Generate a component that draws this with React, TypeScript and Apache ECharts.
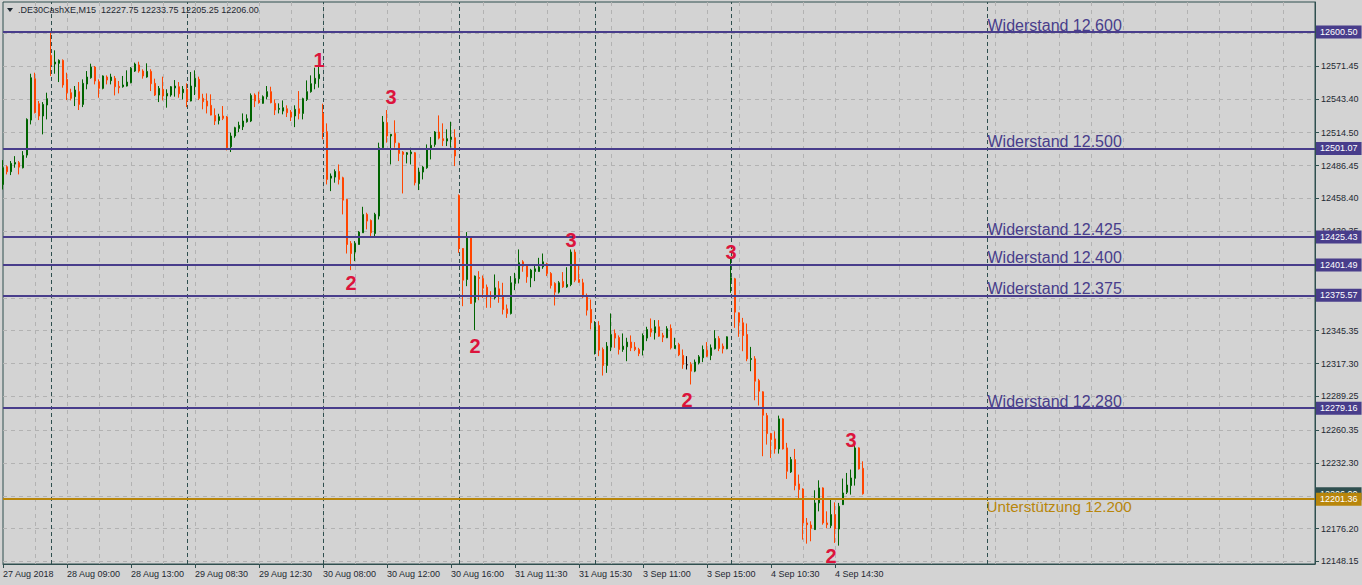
import React, { useEffect, useRef } from "react";
import * as echarts from "echarts";

// ---- data ----
const symbolTitle = ".DE30CashXE,M15";
const xTickLabels = [
  "27 Aug 2018", "28 Aug 09:00", "28 Aug 13:00", "29 Aug 08:30", "29 Aug 12:30",
  "30 Aug 08:00", "30 Aug 12:00", "30 Aug 16:00", "31 Aug 11:30", "31 Aug 15:30",
  "3 Sep 11:00", "3 Sep 15:00", "4 Sep 10:30", "4 Sep 14:30",
];
const barsPerLabel = 16;
const barsPerGridLine = 8;
const totalSlots = 329;

const opens = [
  12470.3, 12485.4, 12481.2, 12487.7, 12488.9, 12484.6, 12495.4, 12525.3, 12560.7, 12539.3,
  12528.8, 12538.2, 12580.6, 12573.2, 12573.8, 12576.3, 12560.1, 12548.7, 12545.3, 12549.6,
  12538.7, 12556.1, 12561.5, 12570.6, 12558.1, 12552.4, 12562.1, 12559.0, 12561.0, 12554.1,
  12553.8, 12554.4, 12557.3, 12567.2, 12572.4, 12567.2, 12562.1, 12566.9, 12556.7, 12546.7,
  12551.6, 12545.9, 12546.7, 12552.7, 12553.8, 12548.7, 12551.6, 12541.6, 12553.8, 12560.1,
  12543.9, 12541.6, 12537.9, 12529.3, 12525.0, 12528.8, 12527.9, 12502.5, 12511.7, 12518.2,
  12519.6, 12523.9, 12524.5, 12546.7, 12542.1, 12539.6, 12545.3, 12549.6, 12539.6, 12534.5,
  12533.0, 12535.0, 12532.2, 12528.8, 12535.0, 12531.0, 12543.0, 12549.6, 12556.4, 12560.7,
  12531.0, 12515.4, 12475.7, 12476.6, 12481.4, 12476.0, 12457.5, 12419.9, 12412.5, 12419.0,
  12429.0, 12444.7, 12439.5, 12428.4, 12443.3, 12501.7, 12523.1, 12511.7, 12513.9, 12505.4,
  12498.0, 12496.0, 12496.5, 12497.4, 12470.9, 12480.9, 12484.6, 12500.3, 12504.5, 12515.1,
  12509.4, 12507.4, 12508.8, 12510.2, 12460.9, 12415.6, 12389.1, 12425.6, 12369.7, 12390.8,
  12390.0, 12382.5, 12375.4, 12373.4, 12381.1, 12375.4, 12364.0, 12360.0, 12385.7, 12389.7,
  12404.2, 12401.1, 12390.5, 12395.9, 12395.9, 12399.9, 12402.5, 12394.2, 12385.7, 12378.3,
  12387.4, 12382.8, 12384.8, 12412.5, 12389.1, 12386.3, 12375.4, 12363.5, 12328.7, 12349.8,
  12329.3, 12315.6, 12331.3, 12343.0, 12339.5, 12329.3, 12331.6, 12335.6, 12331.3, 12329.3,
  12328.7, 12339.0, 12347.0, 12343.5, 12348.7, 12341.3, 12339.3, 12347.3, 12330.2, 12333.6,
  12324.2, 12316.2, 12316.5, 12310.8, 12317.9, 12322.2, 12328.7, 12324.2, 12329.9, 12338.7,
  12332.1, 12329.9, 12388.6, 12389.7, 12360.6, 12352.1, 12342.1, 12320.7, 12321.3, 12302.7,
  12293.1, 12272.8, 12257.4, 12252.9, 12244.3, 12270.0, 12245.2, 12224.7, 12235.2, 12214.4,
  12210.1, 12181.1, 12179.3, 12175.4, 12198.2, 12211.0, 12181.1, 12178.8, 12188.2, 12175.9,
  12196.7, 12207.3, 12213.0, 12219.2, 12245.2, 12227.75,
];
const highs = [
  12491.1, 12486.6, 12490.3, 12494.5, 12490.3, 12498.8, 12526.8, 12564.9, 12565.8, 12541.6,
  12540.7, 12548.7, 12600.3, 12584.9, 12577.2, 12577.2, 12565.8, 12552.1, 12554.4, 12557.8,
  12560.1, 12567.2, 12573.5, 12571.5, 12560.1, 12563.5, 12563.5, 12564.9, 12563.0, 12558.7,
  12563.0, 12567.8, 12570.6, 12574.4, 12575.2, 12568.7, 12573.8, 12568.7, 12560.7, 12554.4,
  12562.4, 12551.6, 12554.4, 12559.5, 12557.8, 12554.4, 12556.7, 12566.4, 12567.8, 12562.4,
  12547.8, 12548.1, 12547.3, 12535.3, 12530.7, 12537.3, 12528.8, 12514.5, 12519.6, 12523.9,
  12531.0, 12530.2, 12548.1, 12548.1, 12549.6, 12546.4, 12554.4, 12553.8, 12543.0, 12539.6,
  12542.1, 12537.9, 12533.9, 12537.9, 12550.1, 12544.4, 12559.2, 12563.5, 12570.1, 12571.5,
  12539.3, 12522.5, 12479.7, 12483.2, 12487.4, 12476.9, 12458.1, 12421.9, 12421.9, 12430.4,
  12451.2, 12446.1, 12440.4, 12446.1, 12506.0, 12528.8, 12533.9, 12513.5, 12525.1, 12506.0,
  12498.8, 12498.0, 12501.7, 12498.0, 12484.6, 12486.0, 12504.5, 12510.8, 12515.9, 12529.3,
  12522.5, 12517.4, 12523.9, 12517.4, 12461.8, 12416.0, 12429.6, 12426.2, 12392.5, 12396.2,
  12392.5, 12384.8, 12379.1, 12393.4, 12387.7, 12386.3, 12367.7, 12392.0, 12394.8, 12414.8,
  12405.6, 12401.9, 12398.2, 12401.9, 12407.6, 12411.3, 12403.4, 12395.4, 12386.8, 12387.7,
  12395.4, 12399.6, 12414.8, 12414.8, 12401.9, 12389.7, 12377.1, 12372.0, 12353.5, 12353.5,
  12331.0, 12335.6, 12360.1, 12346.4, 12341.3, 12343.0, 12339.3, 12341.3, 12335.6, 12330.7,
  12343.0, 12348.7, 12355.8, 12354.4, 12354.4, 12343.5, 12349.2, 12350.7, 12339.3, 12335.0,
  12329.3, 12323.6, 12318.5, 12320.7, 12324.5, 12332.7, 12335.6, 12333.6, 12345.8, 12340.7,
  12334.4, 12340.5, 12406.8, 12390.5, 12361.0, 12356.3, 12351.5, 12331.5, 12323.6, 12304.2,
  12293.6, 12275.1, 12258.0, 12259.4, 12272.8, 12270.5, 12249.5, 12237.5, 12244.3, 12222.4,
  12210.7, 12185.3, 12182.5, 12209.0, 12217.5, 12211.5, 12191.0, 12201.0, 12198.7, 12198.2,
  12219.0, 12223.8, 12226.7, 12248.0, 12245.7, 12233.75,
];
const lows = [
  12466.0, 12478.9, 12478.3, 12484.6, 12478.9, 12484.0, 12493.1, 12521.6, 12531.0, 12525.3,
  12513.1, 12525.9, 12563.0, 12564.9, 12557.8, 12553.0, 12542.4, 12542.1, 12537.3, 12533.9,
  12536.4, 12551.6, 12560.7, 12555.8, 12544.4, 12551.6, 12555.8, 12555.8, 12546.4, 12548.1,
  12553.0, 12554.0, 12556.7, 12566.4, 12565.8, 12560.7, 12561.5, 12550.1, 12545.9, 12540.7,
  12542.1, 12535.9, 12545.3, 12545.3, 12544.4, 12543.0, 12536.4, 12541.3, 12546.7, 12542.4,
  12534.5, 12531.0, 12529.3, 12521.1, 12521.6, 12525.3, 12499.4, 12498.0, 12510.2, 12515.1,
  12516.8, 12523.1, 12523.6, 12536.4, 12539.3, 12539.3, 12543.0, 12539.6, 12529.6, 12531.0,
  12530.2, 12527.9, 12524.5, 12519.3, 12525.9, 12525.9, 12541.6, 12548.7, 12551.6, 12553.0,
  12508.8, 12470.3, 12464.6, 12471.8, 12470.3, 12444.7, 12411.3, 12397.1, 12404.8, 12419.0,
  12429.0, 12431.9, 12424.7, 12424.7, 12440.4, 12501.4, 12506.0, 12487.4, 12501.7, 12490.3,
  12462.6, 12488.3, 12487.4, 12469.5, 12465.5, 12474.6, 12483.7, 12491.7, 12502.5, 12508.8,
  12503.1, 12503.1, 12501.7, 12486.0, 12411.9, 12366.3, 12383.4, 12368.3, 12345.8, 12371.4,
  12373.4, 12364.9, 12364.9, 12372.0, 12369.2, 12359.2, 12356.3, 12359.2, 12380.0, 12385.7,
  12395.7, 12386.3, 12382.5, 12387.7, 12395.9, 12398.2, 12392.0, 12381.4, 12366.9, 12377.1,
  12382.0, 12382.0, 12383.4, 12386.8, 12386.3, 12373.4, 12358.3, 12346.4, 12325.0, 12323.6,
  12307.0, 12309.3, 12327.9, 12330.7, 12325.0, 12327.3, 12319.3, 12327.9, 12327.9, 12323.6,
  12324.2, 12336.4, 12340.1, 12337.8, 12340.1, 12335.6, 12339.0, 12329.3, 12329.9, 12323.6,
  12312.8, 12312.2, 12299.4, 12309.9, 12316.5, 12318.5, 12322.7, 12320.2, 12329.3, 12327.9,
  12325.9, 12329.5, 12377.7, 12347.8, 12340.1, 12327.8, 12319.3, 12310.7, 12285.9, 12281.4,
  12238.1, 12248.0, 12236.6, 12240.3, 12240.3, 12243.8, 12218.7, 12223.8, 12209.0, 12201.6,
  12166.8, 12163.4, 12165.4, 12175.1, 12191.0, 12179.6, 12176.5, 12176.8, 12164.0, 12161.7,
  12196.4, 12205.8, 12205.3, 12213.0, 12226.7, 12205.25,
];
const closes = [
  12484.6, 12481.2, 12488.3, 12489.1, 12485.1, 12495.1, 12525.9, 12561.5, 12531.6, 12528.8,
  12538.7, 12543.6, 12572.4, 12574.9, 12576.3, 12555.3, 12548.7, 12543.9, 12551.0, 12538.7,
  12556.7, 12562.1, 12570.6, 12558.7, 12552.4, 12563.0, 12559.5, 12562.1, 12553.8, 12553.0,
  12555.3, 12557.8, 12569.5, 12573.2, 12567.2, 12563.0, 12566.9, 12556.4, 12546.7, 12552.4,
  12545.9, 12548.1, 12553.8, 12554.4, 12547.8, 12551.6, 12541.6, 12554.4, 12561.0, 12543.9,
  12541.0, 12537.3, 12529.6, 12524.5, 12528.2, 12526.8, 12501.7, 12511.7, 12518.8, 12520.8,
  12524.5, 12526.5, 12546.4, 12541.6, 12540.2, 12545.3, 12549.6, 12540.2, 12533.9, 12535.3,
  12535.9, 12531.6, 12527.9, 12534.5, 12531.0, 12543.6, 12549.6, 12556.4, 12561.0, 12564.4,
  12515.1, 12474.6, 12477.5, 12481.4, 12474.6, 12456.9, 12419.0, 12411.3, 12419.9, 12429.6,
  12444.7, 12439.0, 12429.0, 12444.7, 12501.7, 12523.6, 12511.7, 12513.1, 12506.0, 12496.8,
  12496.0, 12497.4, 12498.0, 12471.8, 12480.9, 12485.1, 12500.3, 12503.7, 12515.1, 12509.9,
  12507.7, 12509.4, 12510.8, 12494.6, 12415.6, 12388.5, 12425.6, 12368.6, 12392.0, 12390.0,
  12381.7, 12374.3, 12374.3, 12382.0, 12374.9, 12363.5, 12360.0, 12386.3, 12390.0, 12403.4,
  12400.5, 12391.4, 12397.1, 12398.2, 12399.9, 12404.2, 12394.2, 12384.0, 12378.3, 12386.3,
  12382.8, 12384.8, 12412.5, 12388.5, 12386.8, 12374.3, 12362.9, 12352.1, 12349.2, 12328.7,
  12315.6, 12332.1, 12342.1, 12339.0, 12329.3, 12332.1, 12335.6, 12330.7, 12329.3, 12325.9,
  12341.3, 12346.4, 12344.1, 12348.7, 12340.7, 12339.8, 12347.0, 12330.7, 12332.7, 12324.7,
  12316.5, 12316.2, 12310.8, 12318.5, 12323.0, 12329.3, 12323.6, 12330.7, 12338.7, 12330.2,
  12329.9, 12340.1, 12390.6, 12361.2, 12352.6, 12341.2, 12321.3, 12321.6, 12302.2, 12293.6,
  12273.1, 12257.4, 12252.3, 12244.3, 12270.0, 12244.3, 12225.2, 12235.2, 12213.0, 12209.6,
  12181.1, 12179.6, 12176.5, 12198.2, 12211.0, 12181.1, 12179.6, 12188.2, 12175.9, 12195.3,
  12206.7, 12213.5, 12219.5, 12245.2, 12227.2, 12206.0,
];

const yTickValues = [
  12599.5, 12571.45, 12543.4, 12514.5, 12486.45, 12458.4, 12430.35, 12402.3, 12373.4,
  12345.35, 12317.3, 12289.25, 12260.35, 12232.3, 12204.25, 12176.2, 12148.15,
];
const yMin = 12146.0;
const yMax = 12626.2;

const daySeparators = [12, 46, 80, 114, 148, 182, 246];
const textAnchorIndex = 246;

const resistanceValues = [12600.5, 12501.07, 12425.43, 12401.49, 12375.57, 12279.16];
const resistanceTexts = [
  "Widerstand 12.600", "Widerstand 12.500", "Widerstand 12.425",
  "Widerstand 12.400", "Widerstand 12.375", "Widerstand 12.280",
];
const supportValue = 12201.36;
const supportText = "Unterstützung 12.200";
const lastPrice = 12206.0;

const waveLabels = ["1", "3", "2", "2", "3", "3", "2", "3", "2"];
const waveIndices = [79, 97, 87, 118, 142, 182, 171, 212, 207];
const wavePrices = [12576.6, 12545.0, 12386.1, 12332.3, 12422.9, 12412.6, 12286.1, 12252.0, 12152.9];

// ---- styles ----
const FONT = '"Liberation Sans", Arial, sans-serif';
const BG = "#d3d3d3";
const FG = "#1e2832";
const FRAME = "#2f4f4f";
const GRID = "#b2b2b2";
const UP = "#006400";
const DOWN = "#ff4500";
const LEVEL = "#483d8b";
const SUPPORT = "#b8860b";
const WAVE = "#dc143c";

const labelAt = (i: number): string =>
  i % barsPerLabel === 0 && i / barsPerLabel < xTickLabels.length ? xTickLabels[i / barsPerLabel] : "";

export default function App() {
  const ref = useRef<HTMLDivElement>(null);

  useEffect(() => {
    if (!ref.current) return;
    const chart = echarts.init(ref.current, undefined, { renderer: "svg" });

    const categories = Array.from({ length: totalSlots }, (_, i) => String(i));
    const candles = opens.map((o, i) => [o, closes[i], lows[i], highs[i]]);
    const last = opens.length - 1;
    const header =
      symbolTitle + "  " +
      [opens[last], highs[last], lows[last], closes[last]].map((v) => v.toFixed(2)).join(" ");

    const tag = (bg: string) => ({
      show: true,
      position: "end",
      distance: 1,
      formatter: (p: any) => Number(p.value).toFixed(2),
      color: "#ffffff",
      backgroundColor: bg,
      padding: [1, 4, 1, 4],
      fontSize: 9,
      lineHeight: 11,
      fontFamily: FONT,
    });

    const option: any = {
      animation: false,
      backgroundColor: BG,
      grid: {
        left: 3, top: 2, width: 1312, height: 562,
        show: true, borderColor: FRAME, borderWidth: 1, backgroundColor: "transparent",
      },
      xAxis: {
        type: "category",
        data: categories,
        boundaryGap: false,
        axisLine: { show: true, lineStyle: { color: FRAME, width: 1 } },
        axisTick: {
          show: true,
          interval: (i: number) => labelAt(i) !== "",
          length: 4,
          lineStyle: { color: FRAME },
        },
        axisLabel: {
          interval: (i: number) => labelAt(i) !== "",
          formatter: (_v: string, i: number) => labelAt(i),
          align: "left",
          color: FG,
          fontSize: 9,
          fontFamily: FONT,
          margin: 5,
        },
        splitLine: {
          show: true,
          interval: (i: number) => i % barsPerGridLine === 0 && i > 0,
          lineStyle: { color: GRID, type: [4, 4], width: 1 },
        },
      },
      yAxis: {
        type: "value",
        position: "right",
        min: yMin,
        max: yMax,
        axisLine: { show: true, lineStyle: { color: FRAME, width: 1 } },
        axisTick: { show: true, length: 4, lineStyle: { color: FRAME }, customValues: yTickValues },
        axisLabel: {
          customValues: yTickValues,
          formatter: (v: number) => v.toFixed(2),
          color: FG,
          fontSize: 9,
          fontFamily: FONT,
          margin: 6,
        },
        splitLine: { show: false },
      },
      graphic: [
        { type: "polygon", shape: { points: [[7, 8], [13, 8], [10, 12]] }, style: { fill: FG }, z: 20 },
        {
          type: "text", left: 18, top: 5, z: 20,
          style: { text: header, fill: FG, font: `9px ${FONT}` },
        },
      ],
      series: [
        {
          type: "line",
          data: [],
          silent: true,
          z: 1,
          markLine: {
            silent: true,
            symbol: ["none", "none"],
            z: 1,
            label: { show: false },
            data: [
              ...yTickValues.map((v) => ({ yAxis: v, lineStyle: { color: GRID, type: [4, 4], width: 1 } })),
              ...daySeparators.map((i) => ({ xAxis: i, lineStyle: { color: FRAME, type: [4, 3], width: 1 } })),
            ],
          },
        },
        {
          type: "candlestick",
          data: candles,
          barWidth: 2,
          clip: false,
          z: 3,
          itemStyle: {
            color: UP, color0: DOWN, borderColor: UP, borderColor0: DOWN,
            borderColorDoji: "#000000", borderWidth: 1,
          },
          markLine: {
            silent: true,
            symbol: ["none", "none"],
            z: 5,
            data: [
              { yAxis: lastPrice, lineStyle: { color: "rgba(0,0,0,0)", width: 0 }, label: tag(FRAME) },
              ...resistanceValues.map((v) => ({
                yAxis: v, lineStyle: { color: LEVEL, width: 2, type: "solid" }, label: tag(LEVEL),
              })),
              { yAxis: supportValue, lineStyle: { color: SUPPORT, width: 2, type: "solid" }, label: tag(SUPPORT) },
            ],
          },
          markPoint: {
            silent: true,
            symbol: "circle",
            symbolSize: 1,
            itemStyle: { color: "rgba(0,0,0,0)" },
            z: 6,
            data: [
              ...resistanceValues.map((v, k) => ({
                coord: [textAnchorIndex, v],
                label: {
                  show: true, position: "right", distance: 0, offset: [0, -7],
                  formatter: resistanceTexts[k], color: LEVEL, fontSize: 16, fontFamily: FONT,
                },
              })),
              {
                coord: [textAnchorIndex, supportValue],
                label: {
                  show: true, position: "right", distance: 0, offset: [-1, 7],
                  formatter: supportText, color: SUPPORT, fontSize: 15.2, fontFamily: FONT,
                },
              },
              ...waveLabels.map((t, k) => ({
                coord: [waveIndices[k], wavePrices[k]],
                label: {
                  show: true, position: "inside", formatter: t, color: WAVE,
                  fontSize: 20, fontWeight: "bold", fontFamily: FONT,
                },
              })),
            ],
          },
        },
      ],
    };

    chart.setOption(option);
    return () => chart.dispose();
  }, []);

  return (
    <div
      ref={ref}
      style={{ position: "fixed", left: 0, top: 0, width: 1362, height: 585, background: BG }}
    />
  );
}
